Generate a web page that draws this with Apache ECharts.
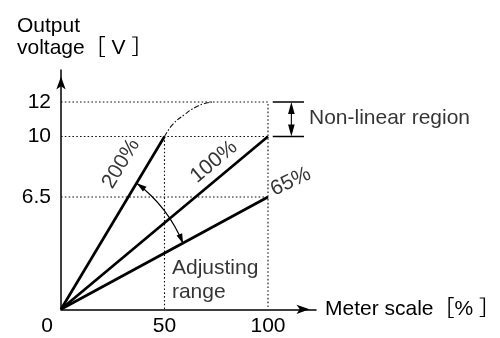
<!DOCTYPE html>
<html><head><meta charset="utf-8">
<script src="https://cdn.jsdelivr.net/npm/echarts@6/dist/echarts.min.js"></script>
<style>html,body{margin:0;padding:0;background:#fff}#c{width:500px;height:338px}</style>
</head><body><div id="c"></div>
<script>
const FONT = "'Liberation Sans', Arial, 'Noto Sans CJK JP', sans-serif";
// axis ticks
const xTicks = [0, 50, 100];
const yTicks = [6.5, 10, 12];
// characteristic lines (meter scale %, output V)
const line200 = [[0, 0], [50, 10]];
const line100 = [[0, 0], [100, 10]];
const line65 = [[0, 0], [100, 6.5]];
const curve200 = [[50, 10], [54, 10.7], [60, 11.3], [65, 11.7], [69, 11.9], [73, 12]];
// dotted guides
const guide12 = [[0, 12], [100, 12], [100, 0]];
const guide10 = [[0, 10], [100, 10]];
const guide65 = [[0, 6.5], [100, 6.5]];
const guide50 = [[50, 10], [50, 0]];
// non-linear region bracket
const bracketTop = [[102.3, 12], [117.4, 12]];
const bracketBottom = [[102.3, 10], [117.4, 10]];
const nonLinearArrow = [[111.3, 10, 12]];
// adjusting range arrow: point on 200% line -> point on 65% line
const adjustArc = [[36.6, 7.3, 59, 3.8]];
// text annotations
const lineLabels = ['200%', '100%', '65%'];
const lineLabelPos = [[29, 8.42], [73.9, 8.53], [111, 7.38]];
const noteTexts = ['Non-linear region', 'Adjusting\nrange'];
const notePos = [[119.8, 11.07], [53.6, 1.68]];

const BLACK = '#000';
const chart = echarts.init(document.getElementById('c'), null, {renderer: 'canvas'});

function unit(a, b) { const dx = b[0] - a[0], dy = b[1] - a[1]; const l = Math.hypot(dx, dy); return [dx / l, dy / l]; }
function arrowHead(tip, dir, len, hw) {
  const n = [-dir[1], dir[0]];
  const bx = tip[0] - dir[0] * len, by = tip[1] - dir[1] * len;
  return {type: 'polygon', shape: {points: [tip, [bx + n[0] * hw, by + n[1] * hw], [bx - n[0] * hw, by - n[1] * hw]]}, style: {fill: BLACK}};
}

function lineSeries(data, style) {
  return {type: 'line', data: data, symbol: 'none', silent: true, z: 3, lineStyle: style};
}
const dotted = {color: '#111', width: 1.1, type: [1.6, 2.2]};
const solid = {color: BLACK, width: 2.7};

const textBase = {color: BLACK, fontSize: 21, fontFamily: FONT};

const labelData = lineLabels.map((t, i) => ({
  value: lineLabelPos[i],
  label: {show: true, formatter: t, position: 'inside', rotate: [59, 40, 25][i], ...textBase}
})).concat(noteTexts.map((t, i) => ({
  value: notePos[i],
  label: {show: true, formatter: t, position: 'right', distance: 0, align: 'left', verticalAlign: 'middle', lineHeight: 24, ...textBase}
})));

chart.setOption({
  animation: false,
  backgroundColor: '#fff',
  title: {
    text: 'Output\nvoltage［ V ］', left: 12, top: 10,
    textStyle: {fontWeight: 'normal', lineHeight: 22, ...textBase}
  },
  grid: {left: 61, right: 184, top: 70, bottom: 28.7, containLabel: false, outerBoundsMode: 'none'},
  xAxis: {
    type: 'value', min: 0, max: 123.2,
    axisLine: {show: true, onZero: false, symbol: ['none', 'arrow'], symbolSize: [7, 13], symbolOffset: [0, -6.5], lineStyle: {color: BLACK, width: 1.5}},
    axisTick: {show: false}, splitLine: {show: false},
    axisLabel: {
      customValues: xTicks, margin: 6, ...textBase,
      formatter: v => v === 0 ? '{z|0}' : String(v),
      rich: {z: {padding: [0, 28, 0, 0], ...textBase}}
    },
    name: 'Meter scale［% ］', nameLocation: 'end', nameGap: 9,
    nameTextStyle: {...textBase}
  },
  yAxis: {
    type: 'value', min: 0, max: 13.85,
    axisLine: {show: true, onZero: false, symbol: ['none', 'arrow'], symbolSize: [7, 13], symbolOffset: [0, -6.5], lineStyle: {color: BLACK, width: 1.5}},
    axisTick: {show: false}, splitLine: {show: false},
    axisLabel: {customValues: yTicks, margin: 10, ...textBase}
  },
  series: [
    lineSeries(guide12, dotted),
    lineSeries(guide10, dotted),
    lineSeries(guide65, dotted),
    lineSeries(guide50, dotted),
    lineSeries(line200, solid),
    lineSeries(line100, solid),
    lineSeries(line65, solid),
    {type: 'line', data: curve200, symbol: 'none', silent: true, smooth: true, z: 3,
     lineStyle: {color: '#111', width: 1.1, type: [5, 2, 1.5, 2]}},
    lineSeries(bracketTop, {color: BLACK, width: 1.5}),
    lineSeries(bracketBottom, {color: BLACK, width: 1.5}),
    {
      type: 'custom', coordinateSystem: 'cartesian2d', data: nonLinearArrow, silent: true, clip: false, z: 4,
      renderItem: function (params, api) {
        const x = api.value(0);
        const bot = api.coord([x, api.value(1)]);
        const top = api.coord([x, api.value(2)]);
        return {type: 'group', children: [
          {type: 'line', shape: {x1: top[0], y1: top[1] + 6, x2: bot[0], y2: bot[1] - 6}, style: {stroke: BLACK, lineWidth: 1.1}},
          arrowHead(top, [0, -1], 12, 3.3),
          arrowHead(bot, [0, 1], 12, 3.3)
        ]};
      }
    },
    {
      type: 'custom', coordinateSystem: 'cartesian2d', data: adjustArc, silent: true, clip: false, z: 4,
      renderItem: function (params, api) {
        const o = api.coord([0, 0]);
        const p1 = api.coord([api.value(0), api.value(1)]);
        const p2 = api.coord([api.value(2), api.value(3)]);
        const a1 = Math.atan2(p1[1] - o[1], p1[0] - o[0]);
        const a2 = Math.atan2(p2[1] - o[1], p2[0] - o[0]);
        const r = (Math.hypot(p1[0] - o[0], p1[1] - o[1]) + Math.hypot(p2[0] - o[0], p2[1] - o[1])) / 2;
        const am = (a1 + a2) / 2, half = Math.abs(a1 - a2) / 2;
        const rc = r / Math.cos(half);
        const cp = [o[0] + rc * Math.cos(am), o[1] + rc * Math.sin(am)];
        return {type: 'group', children: [
          {type: 'bezierCurve', shape: {x1: p1[0], y1: p1[1], x2: p2[0], y2: p2[1], cpx1: cp[0], cpy1: cp[1]},
           style: {stroke: BLACK, lineWidth: 1.2, fill: null}},
          arrowHead(p1, unit(cp, p1), 10, 3),
          arrowHead(p2, unit(cp, p2), 10, 3)
        ]};
      }
    },
    {
      type: 'scatter', data: labelData, symbolSize: 0, silent: true, z: 5, clip: false,
      itemStyle: {color: 'transparent'}
    }
  ]
});
</script>
</body></html>
